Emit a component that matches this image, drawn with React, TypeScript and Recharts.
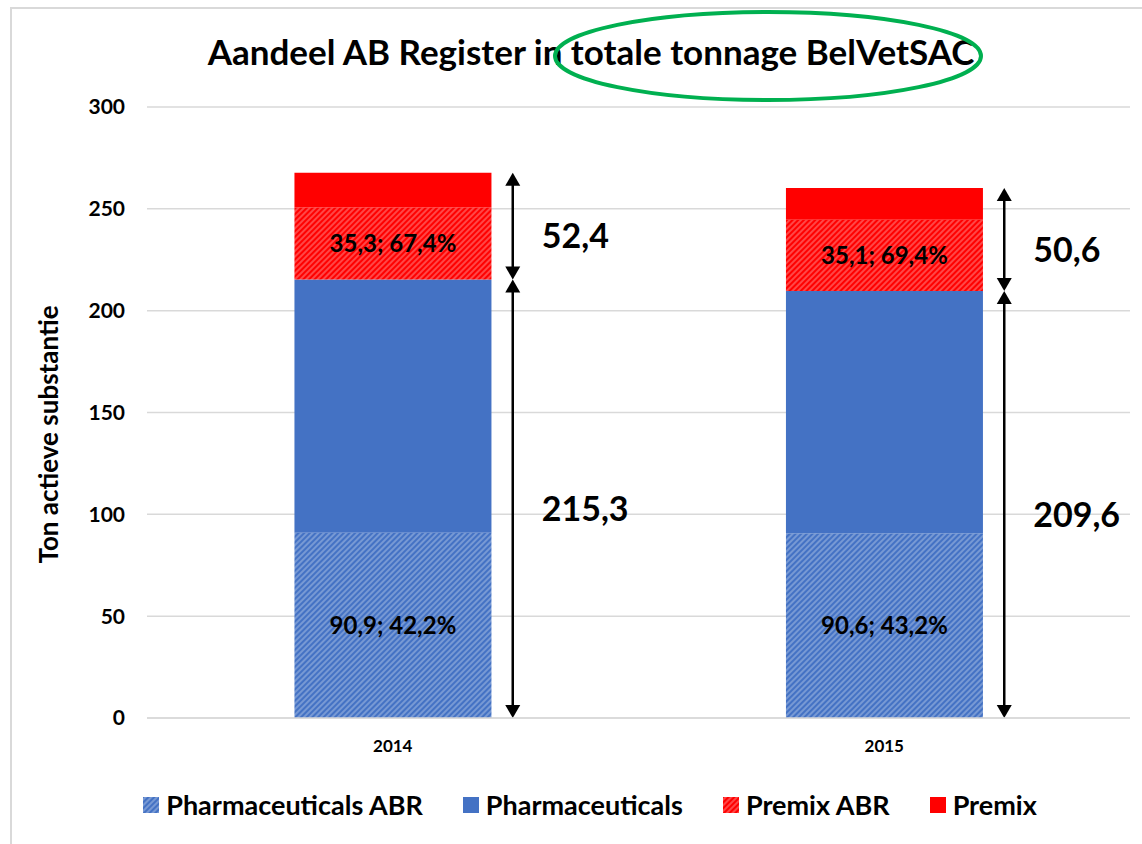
import React from 'react';
import { BarChart, Bar, XAxis, YAxis, CartesianGrid, ReferenceLine, LabelList } from 'recharts';

const years = ['2014', '2015'];
const pharmaAbr = [90.9, 90.6];
const pharmaOther = [124.4, 119.0];
const premixAbr = [35.3, 35.1];
const premixOther = [17.1, 15.5];
const pharmaAbrShare = ['42,2%', '43,2%'];
const premixAbrShare = ['67,4%', '69,4%'];
const pharmaTotals = [215.3, 209.6];
const premixTotals = [52.4, 50.6];
const yTicks = [0, 50, 100, 150, 200, 250, 300];

const FONT = 'Lato, "Open Sans", sans-serif';
const BLUE = '#4472C4';
const RED = '#FF0000';
const ARROW_DX = 120;

const series = [
  { key: 'pharmaAbr', name: 'Pharmaceuticals ABR', fill: 'url(#hatch-blue)' },
  { key: 'pharmaOther', name: 'Pharmaceuticals', fill: BLUE },
  { key: 'premixAbr', name: 'Premix ABR', fill: 'url(#hatch-red)' },
  { key: 'premixOther', name: 'Premix', fill: RED },
];

const fmt = (v: number) => v.toFixed(1).replace('.', ',');

const data = years.map((year, i) => ({
  year,
  pharmaAbr: pharmaAbr[i],
  pharmaOther: pharmaOther[i],
  premixAbr: premixAbr[i],
  premixOther: premixOther[i],
  pharmaAbrLabel: `${fmt(pharmaAbr[i])}; ${pharmaAbrShare[i]}`,
  premixAbrLabel: `${fmt(premixAbr[i])}; ${premixAbrShare[i]}`,
}));

function Hatch({ id, color }: { id: string; color: string }) {
  return (
    <pattern id={id} width={4} height={4} patternUnits="userSpaceOnUse" patternTransform="rotate(45)">
      <rect width={4} height={4} fill={color} />
      <line x1={2} y1={0} x2={2} y2={4} stroke="#ffffff" strokeOpacity={0.5} strokeWidth={1.1} />
    </pattern>
  );
}

// double-headed arrow drawn next to the bar, with its total beside it
const makeArrow = (label: string) => (p: any) => {
  const x = p.x1 + ARROW_DX;
  const top = Math.min(p.y1, p.y2);
  const bottom = Math.max(p.y1, p.y2);
  const h = 13;
  const w = 7.5;
  return (
    <g>
      <line x1={x} y1={top + h - 1} x2={x} y2={bottom - h + 1} stroke="#000" strokeWidth={2.5} />
      <polygon points={`${x},${top} ${x - w},${top + h} ${x + w},${top + h}`} fill="#000" />
      <polygon points={`${x},${bottom} ${x - w},${bottom - h} ${x + w},${bottom - h}`} fill="#000" />
      <text x={x + 29} y={(top + bottom) / 2 + 22} fontSize={34} fontWeight={700} fontFamily={FONT} fill="#000">
        {label}
      </text>
    </g>
  );
};

const YTitle = (props: any) => {
  const vb = props.viewBox || {};
  const x = vb.x + 48;
  const y = vb.y + vb.height / 2 + 22;
  return (
    <text x={x} y={y} transform={`rotate(-90 ${x} ${y})`} textAnchor="middle" dominantBaseline="central"
      fontSize={26} fontWeight={700} fontFamily={FONT} fill="#000">
      Ton actieve substantie
    </text>
  );
};

export default function App() {
  return (
    <div style={{ position: 'absolute', left: 0, top: 0, width: 1142, height: 844, background: '#fff', fontFamily: FONT }}>
      <svg width={0} height={0} style={{ position: 'absolute' }}>
        <defs>
          <Hatch id="hatch-blue" color={BLUE} />
          <Hatch id="hatch-red" color={RED} />
        </defs>
      </svg>
      <div style={{ position: 'absolute', left: 11, top: 7, width: 1131, height: 2, background: '#d9d9d9' }} />
      <div style={{ position: 'absolute', left: 10, top: 7, width: 2, height: 837, background: '#d9d9d9' }} />

      <div style={{ position: 'absolute', left: 0, top: 29, width: 1182, textAlign: 'center', fontSize: 35, fontWeight: 700, lineHeight: '44px', color: '#000' }}>
        Aandeel AB Register in totale tonnage BelVetSAC
      </div>

      <div style={{ position: 'absolute', left: 0, top: 0 }}>
        <BarChart width={1142} height={844} data={data} margin={{ top: 107, right: 12, bottom: 96, left: 0 }} barCategoryGap="30%">
          <CartesianGrid vertical={false} stroke="#d9d9d9" strokeWidth={1.5} />
          <XAxis dataKey="year" axisLine={{ stroke: '#d9d9d9', strokeWidth: 1.5 }} tickLine={false} tickSize={0} tickMargin={22}
            tick={{ fontSize: 17, fontWeight: 700, fill: '#000', fontFamily: FONT }} />
          <YAxis width={147} domain={[0, 300]} ticks={yTicks} axisLine={false} tickLine={false} tickSize={0} tickMargin={22}
            tick={{ fontSize: 21, fontWeight: 700, fill: '#000', fontFamily: FONT }} label={<YTitle />} />
          {series.map(s => (
            <Bar key={s.key} dataKey={s.key} name={s.name} stackId="a" fill={s.fill} isAnimationActive={false}>
              {s.key === 'pharmaAbr' && (
                <LabelList dataKey="pharmaAbrLabel" position="center" fill="#000" fontSize={24} fontWeight={700} fontFamily={FONT} />
              )}
              {s.key === 'premixAbr' && (
                <LabelList dataKey="premixAbrLabel" position="center" fill="#000" fontSize={24} fontWeight={700} fontFamily={FONT} />
              )}
            </Bar>
          ))}
          {years.map((year, i) => (
            <ReferenceLine key={`up-${year}`} ifOverflow="visible"
              segment={[{ x: year, y: pharmaTotals[i] + premixTotals[i] }, { x: year, y: pharmaTotals[i] }]}
              shape={makeArrow(fmt(premixTotals[i]))} />
          ))}
          {years.map((year, i) => (
            <ReferenceLine key={`low-${year}`} ifOverflow="visible"
              segment={[{ x: year, y: pharmaTotals[i] }, { x: year, y: 0 }]}
              shape={makeArrow(fmt(pharmaTotals[i]))} />
          ))}
        </BarChart>
      </div>

      <svg width={1142} height={844} style={{ position: 'absolute', left: 0, top: 0, pointerEvents: 'none' }}>
        <ellipse cx={768} cy={56} rx={213} ry={44} fill="none" stroke="#00B050" strokeWidth={4} />
      </svg>

      <div style={{ position: 'absolute', left: 0, top: 788, width: 1180, display: 'flex', justifyContent: 'center', gap: 40, fontSize: 27, fontWeight: 700, lineHeight: '34px', color: '#000' }}>
        {series.map(s => (
          <div key={s.key} style={{ display: 'flex', alignItems: 'center', gap: 7 }}>
            <svg width={16} height={16}>
              <rect width={16} height={16} fill={s.fill} />
            </svg>
            <span>{s.name}</span>
          </div>
        ))}
      </div>
    </div>
  );
}
